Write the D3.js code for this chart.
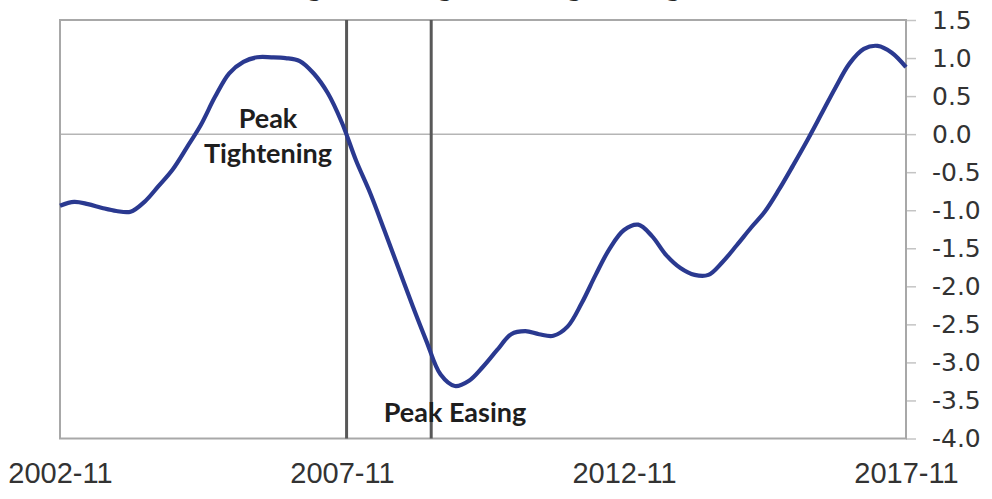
<!DOCTYPE html>
<html>
<head>
<meta charset="utf-8">
<script src="https://cdn.jsdelivr.net/npm/d3@7/dist/d3.min.js"></script>
<style>
  html, body { margin: 0; padding: 0; background: #fff; overflow: hidden; }
  svg { display: block; }
</style>
</head>
<body>
<svg id="chart" width="992" height="499"></svg>
<script>
// ---- data ----
const title = "Tightening/Easing Gauge";
const dates = [
  "2002-11","2003-02","2003-05","2003-08","2003-11","2004-02","2004-05","2004-08","2004-11",
  "2005-02","2005-05","2005-08","2005-11","2006-02","2006-05","2006-08","2006-11",
  "2007-02","2007-05","2007-08","2007-11","2008-02","2008-05","2008-08","2008-11",
  "2009-02","2009-05","2009-08","2009-11","2010-02","2010-05","2010-08","2010-11",
  "2011-02","2011-05","2011-08","2011-11","2012-02","2012-05","2012-08","2012-11",
  "2013-02","2013-05","2013-08","2013-11","2014-02","2014-05","2014-08","2014-11",
  "2015-02","2015-05","2015-08","2015-11","2016-02","2016-05","2016-08","2016-11",
  "2017-02","2017-05","2017-08","2017-11"
];
const values = [
  -0.94,-0.89,-0.92,-0.97,-1.01,-1.02,-0.89,-0.68,-0.46,
  -0.17, 0.12, 0.49, 0.80, 0.95, 1.01, 1.01, 1.00,
   0.96, 0.80, 0.54, 0.15,-0.35,-0.77,-1.26,-1.76,
  -2.26,-2.72,-3.16,-3.31,-3.24,-3.06,-2.84,-2.63,
  -2.59,-2.63,-2.65,-2.53,-2.22,-1.85,-1.50,-1.26,
  -1.19,-1.34,-1.59,-1.76,-1.85,-1.85,-1.68,-1.46,
  -1.23,-1.02,-0.73,-0.41,-0.08, 0.26, 0.61, 0.93,
   1.12, 1.16, 1.07, 0.88
];
const xTickLabels = ["2002-11","2007-11","2012-11","2017-11"];
const yTicks = [1.5,1.0,0.5,0.0,-0.5,-1.0,-1.5,-2.0,-2.5,-3.0,-3.5,-4.0];
const markerDates = ["2007-12","2009-06"];
const markerLabels = [["Peak","Tightening"],["Peak Easing"]];

// ---- layout ----
const parse = d3.timeParse("%Y-%m");
const W = 992, H = 499;
const mLeft = 60, mRight = 906, mTop = 20, mBottom = 438.5;

const svg = d3.select("#chart");
const x = d3.scaleTime()
  .domain([parse(xTickLabels[0]), parse(xTickLabels[xTickLabels.length-1])])
  .range([mLeft, mRight]);
const y = d3.scaleLinear().domain([-4.0, 1.5]).range([mBottom, mTop]);

// title (cut off at the top edge as in the reference, only descenders show)
svg.append("text")
  .attr("x", 272).attr("y", -5)
  .attr("font-family", "Lato, 'Open Sans', sans-serif")
  .attr("font-weight", "bold")
  .attr("font-size", 34)
  .attr("fill", "#222")
  .attr("textLength", 430)
  .attr("lengthAdjust", "spacing")
  .text(title);

// zero line
svg.append("line")
  .attr("x1", mLeft).attr("x2", mRight)
  .attr("y1", y(0)).attr("y2", y(0))
  .attr("stroke", "#b5b5b5").attr("stroke-width", 1.5);

// right y axis
const yAxis = d3.axisRight(y)
  .tickValues(yTicks)
  .tickSize(10)
  .tickPadding(16)
  .tickFormat(d => d3.format(".1f")(d).replace("\u2212", "-"));
const gy = svg.append("g")
  .attr("transform", `translate(${mRight},0)`)
  .call(yAxis);
gy.select(".domain").remove();
gy.selectAll(".tick line").attr("stroke", "#c4c4c4").attr("stroke-width", 1.5);
gy.selectAll(".tick text")
  .attr("font-family", "'DejaVu Sans', sans-serif")
  .attr("font-size", 25)
  .attr("fill", "#333")
  .attr("text-anchor", "start");

// bottom x axis labels
const xAxis = d3.axisBottom(x)
  .tickValues(xTickLabels.map(parse))
  .tickSize(0)
  .tickPadding(24)
  .tickFormat(d3.timeFormat("%Y-%m"));
const gx = svg.append("g")
  .attr("transform", `translate(0,${mBottom})`)
  .call(xAxis);
gx.select(".domain").remove();
gx.selectAll(".tick text")
  .attr("font-family", "'Liberation Sans Narrow', 'Liberation Sans', sans-serif")
  .attr("font-size", 29)
  .attr("fill", "#333")
  .attr("dy", "0.71em");

// frame
svg.append("rect")
  .attr("x", mLeft).attr("y", mTop)
  .attr("width", mRight - mLeft).attr("height", mBottom - mTop)
  .attr("fill", "none")
  .attr("stroke", "#a8a8a8").attr("stroke-width", 2);

// vertical marker lines
svg.selectAll("line.marker")
  .data(markerDates)
  .enter().append("line")
  .attr("class", "marker")
  .attr("x1", d => x(parse(d))).attr("x2", d => x(parse(d)))
  .attr("y1", mTop).attr("y2", mBottom)
  .attr("stroke", "#585858").attr("stroke-width", 3);

// series line
const pts = dates.map((d, i) => ({ date: parse(d), value: values[i] }));
const line = d3.line()
  .x(d => x(d.date))
  .y(d => y(d.value))
  .curve(d3.curveCatmullRom.alpha(0.5));
svg.append("path")
  .datum(pts)
  .attr("fill", "none")
  .attr("stroke", "#2a3990")
  .attr("stroke-width", 4.2)
  .attr("stroke-linejoin", "round")
  .attr("d", line);

// annotations
const annFont = "Lato, 'Open Sans', sans-serif";
const t1 = svg.append("text")
  .attr("font-family", annFont).attr("font-weight", "bold")
  .attr("font-size", 27).attr("fill", "#1e1e1e")
  .attr("text-anchor", "middle");
t1.append("tspan").attr("x", 268).attr("y", 128).text(markerLabels[0][0]);
t1.append("tspan").attr("x", 268).attr("y", 163).text(markerLabels[0][1]);

svg.append("text")
  .attr("font-family", annFont).attr("font-weight", "bold")
  .attr("font-size", 27).attr("fill", "#1e1e1e")
  .attr("text-anchor", "middle")
  .attr("x", 455).attr("y", 422)
  .text(markerLabels[1][0]);
</script>
</body>
</html>
